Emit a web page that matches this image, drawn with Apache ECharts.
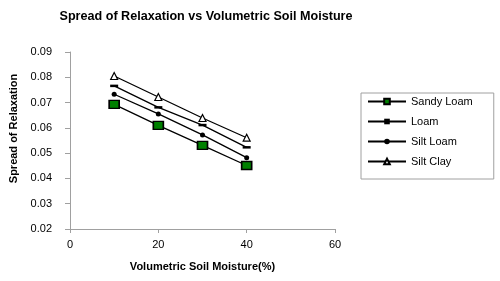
<!DOCTYPE html>
<html>
<head>
<meta charset="utf-8">
<script src="https://cdn.jsdelivr.net/npm/echarts@6/dist/echarts.min.js"></script>
<style>
html, body { margin: 0; padding: 0; background: #fff; }
#chart { width: 500px; height: 281px; }
</style>
</head>
<body>
<div id="chart"></div>
<script>
//*************** data ***************
var moisture = [10, 20, 30, 40];
var sandy_loam = [0.0693, 0.0610, 0.0531, 0.0451];
var loam = [0.0766, 0.0681, 0.0611, 0.0523];
var silt_loam = [0.0733, 0.0655, 0.0572, 0.0482];
var silt_clay = [0.0805, 0.0722, 0.0639, 0.0561];

function pairs(ys) {
    return moisture.map(function (x, i) { return [x, ys[i]]; });
}

var font = 'Liberation Sans, Arial, sans-serif';

//*************** chart ***************
var chart_dom = document.getElementById("chart");
var chart = echarts.init(chart_dom);

var option = {
    backgroundColor: '#fff',
    animation: false,
    title: {
        text: 'Spread of Relaxation vs Volumetric Soil Moisture',
        left: 201,
        top: 5,
        textAlign: 'center',
        textStyle: {fontFamily: font, fontSize: 12.6, fontWeight: 'bold', color: '#000'}
    },
    legend: {
        orient: 'vertical',
        left: 361,
        top: 93,
        padding: [3, 21, 12, 6],
        itemGap: 9,
        itemWidth: 38,
        itemHeight: 7,
        borderColor: '#a0a0a0',
        borderWidth: 1,
        textStyle: {fontFamily: font, fontSize: 11, color: '#000'},
        data: ['Sandy Loam', 'Loam', 'Silt Loam', 'Silt Clay']
    },
    grid: {left: 70, right: 165, top: 52, bottom: 52},
    xAxis: {
        type: 'value',
        min: 0, max: 60, interval: 20,
        name: 'Volumetric Soil Moisture(%)',
        nameLocation: 'middle',
        nameGap: 32,
        nameTextStyle: {fontFamily: font, fontSize: 11, fontWeight: 'bold', color: '#000'},
        axisLine: {show: true, lineStyle: {color: '#a0a0a0'}},
        axisTick: {show: true, length: 4, lineStyle: {color: '#a0a0a0'}},
        axisLabel: {fontFamily: font, fontSize: 11, color: '#000', margin: 10},
        splitLine: {show: false}
    },
    yAxis: {
        type: 'value',
        min: 0.02, max: 0.09, interval: 0.01,
        name: 'Spread of Relaxation',
        nameLocation: 'middle',
        nameGap: 50,
        nameTextStyle: {fontFamily: font, fontSize: 11, fontWeight: 'bold', color: '#000', padding: [0, 0, 0, 24]},
        axisLine: {show: true, lineStyle: {color: '#a0a0a0'}},
        axisTick: {show: true, length: 5, lineStyle: {color: '#a0a0a0'}},
        axisLabel: {
            fontFamily: font, fontSize: 11, color: '#000', margin: 18,
            formatter: function (v) { return v.toFixed(2); }
        },
        splitLine: {show: false}
    },
    series: [
        {
            name: 'Sandy Loam', type: 'line', data: pairs(sandy_loam),
            symbol: 'rect', symbolSize: [10, 8],
            lineStyle: {color: '#000', width: 1.3},
            itemStyle: {color: '#008000', borderColor: '#000', borderWidth: 1.5}
        },
        {
            name: 'Loam', type: 'line', data: pairs(loam),
            symbol: 'rect', symbolSize: [8, 2.5],
            lineStyle: {color: '#000', width: 1.3},
            itemStyle: {color: '#000', borderColor: '#000', borderWidth: 0}
        },
        {
            name: 'Silt Loam', type: 'line', data: pairs(silt_loam),
            symbol: 'circle', symbolSize: 5,
            lineStyle: {color: '#000', width: 1.3},
            itemStyle: {color: '#000', borderColor: '#000', borderWidth: 0}
        },
        {
            name: 'Silt Clay', type: 'line', data: pairs(silt_clay),
            symbol: 'triangle', symbolSize: 7,
            lineStyle: {color: '#000', width: 1.3},
            itemStyle: {color: '#fff', borderColor: '#000', borderWidth: 1.2}
        }
    ]
};

chart.setOption(option);
</script>
</body>
</html>
